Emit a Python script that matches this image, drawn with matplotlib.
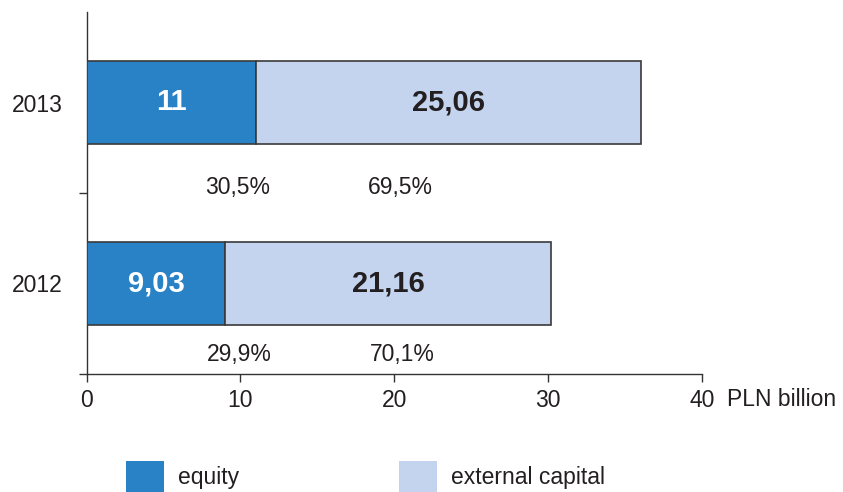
import matplotlib
matplotlib.use("Agg")
import matplotlib.pyplot as plt
from matplotlib.patches import Patch

plt.rcParams['font.family'] = ['Liberation Sans', 'DejaVu Sans']

years = ["2012", "2013"]
equity = [9.03, 11.0]
external = [21.16, 25.06]
equity_labels = ["9,03", "11"]
external_labels = ["21,16", "25,06"]
x_ticks = [0, 10, 20, 30, 40]
series_names = ["equity", "external capital"]

c_eq = "#2982C6"
c_ext = "#C5D4EE"
edge = "#3a3a3a"
txt = "#231f20"

W, H = 843, 492
fig = plt.figure(figsize=(W / 100, H / 100), dpi=100)
ax = fig.add_axes([86.5 / W, (H - 374) / H, (702 - 86.5) / W, (374 - 12) / H])

ypos = list(range(len(years)))
bh = 0.455
ax.barh(ypos, equity, height=bh, color=c_eq, edgecolor=edge, linewidth=1.2, zorder=3)
ax.barh(ypos, external, left=equity, height=bh, color=c_ext, edgecolor=edge, linewidth=1.2, zorder=3)

for i in ypos:
    ax.text(equity[i] / 2, i, equity_labels[i], ha="center", va="center",
            color="white", fontsize=21, fontweight="bold", zorder=4)
    ax.text(equity[i] + external[i] / 2, i, external_labels[i], ha="center", va="center",
            color=txt, fontsize=21, fontweight="bold", zorder=4)

# percentage labels below each bar
pct_offsets = [-0.393, -0.468]
pct_x = [(9.95, 20.55), (9.8, 20.4)]
for i in ypos:
    tot = equity[i] + external[i]
    p1 = f"{equity[i] / tot * 100:.1f}%".replace(".", ",")
    p2 = f"{external[i] / tot * 100:.1f}%".replace(".", ",")
    ax.text(pct_x[i][0], i + pct_offsets[i], p1, ha="center", va="center", fontsize=16.5, color=txt)
    ax.text(pct_x[i][1], i + pct_offsets[i], p2, ha="center", va="center", fontsize=16.5, color=txt)

ax.set_xlim(0, 40)
ax.set_ylim(-0.5, 1.5)
ax.set_xticks(x_ticks)
ax.set_xticklabels([str(t) for t in x_ticks])
ax.tick_params(axis="x", length=5.5, width=1, color="#333333", pad=5, labelsize=16.5, labelcolor=txt)

ax.set_yticks(ypos)
ax.set_yticklabels(years)
ax.tick_params(axis="y", which="major", length=0, pad=17, labelsize=16.5, labelcolor=txt)
ax.set_yticks([-0.5, 0.5], minor=True)
ax.tick_params(axis="y", which="minor", length=6, width=1, color="#333333")

for s in ["top", "right"]:
    ax.spines[s].set_visible(False)
for s in ["left", "bottom"]:
    ax.spines[s].set_color("#333333")
    ax.spines[s].set_linewidth(1)

ax.annotate("PLN billion", xy=(40, -0.5), xycoords="data", xytext=(25, -25),
            textcoords="offset pixels", ha="left", va="center", fontsize=16.5, color=txt,
            annotation_clip=False)

handles = [Patch(facecolor=c_eq, edgecolor="none"), Patch(facecolor=c_ext, edgecolor="none")]
fig.legend(handles, series_names, loc="lower left", bbox_to_anchor=(126 / W, 0),
           ncol=2, frameon=False, fontsize=16.5, handlelength=1.66, handleheight=1.7,
           handletextpad=0.62, columnspacing=6.95, borderpad=0, borderaxespad=0,
           labelcolor=txt)

fig.savefig("out.png", dpi=100)
